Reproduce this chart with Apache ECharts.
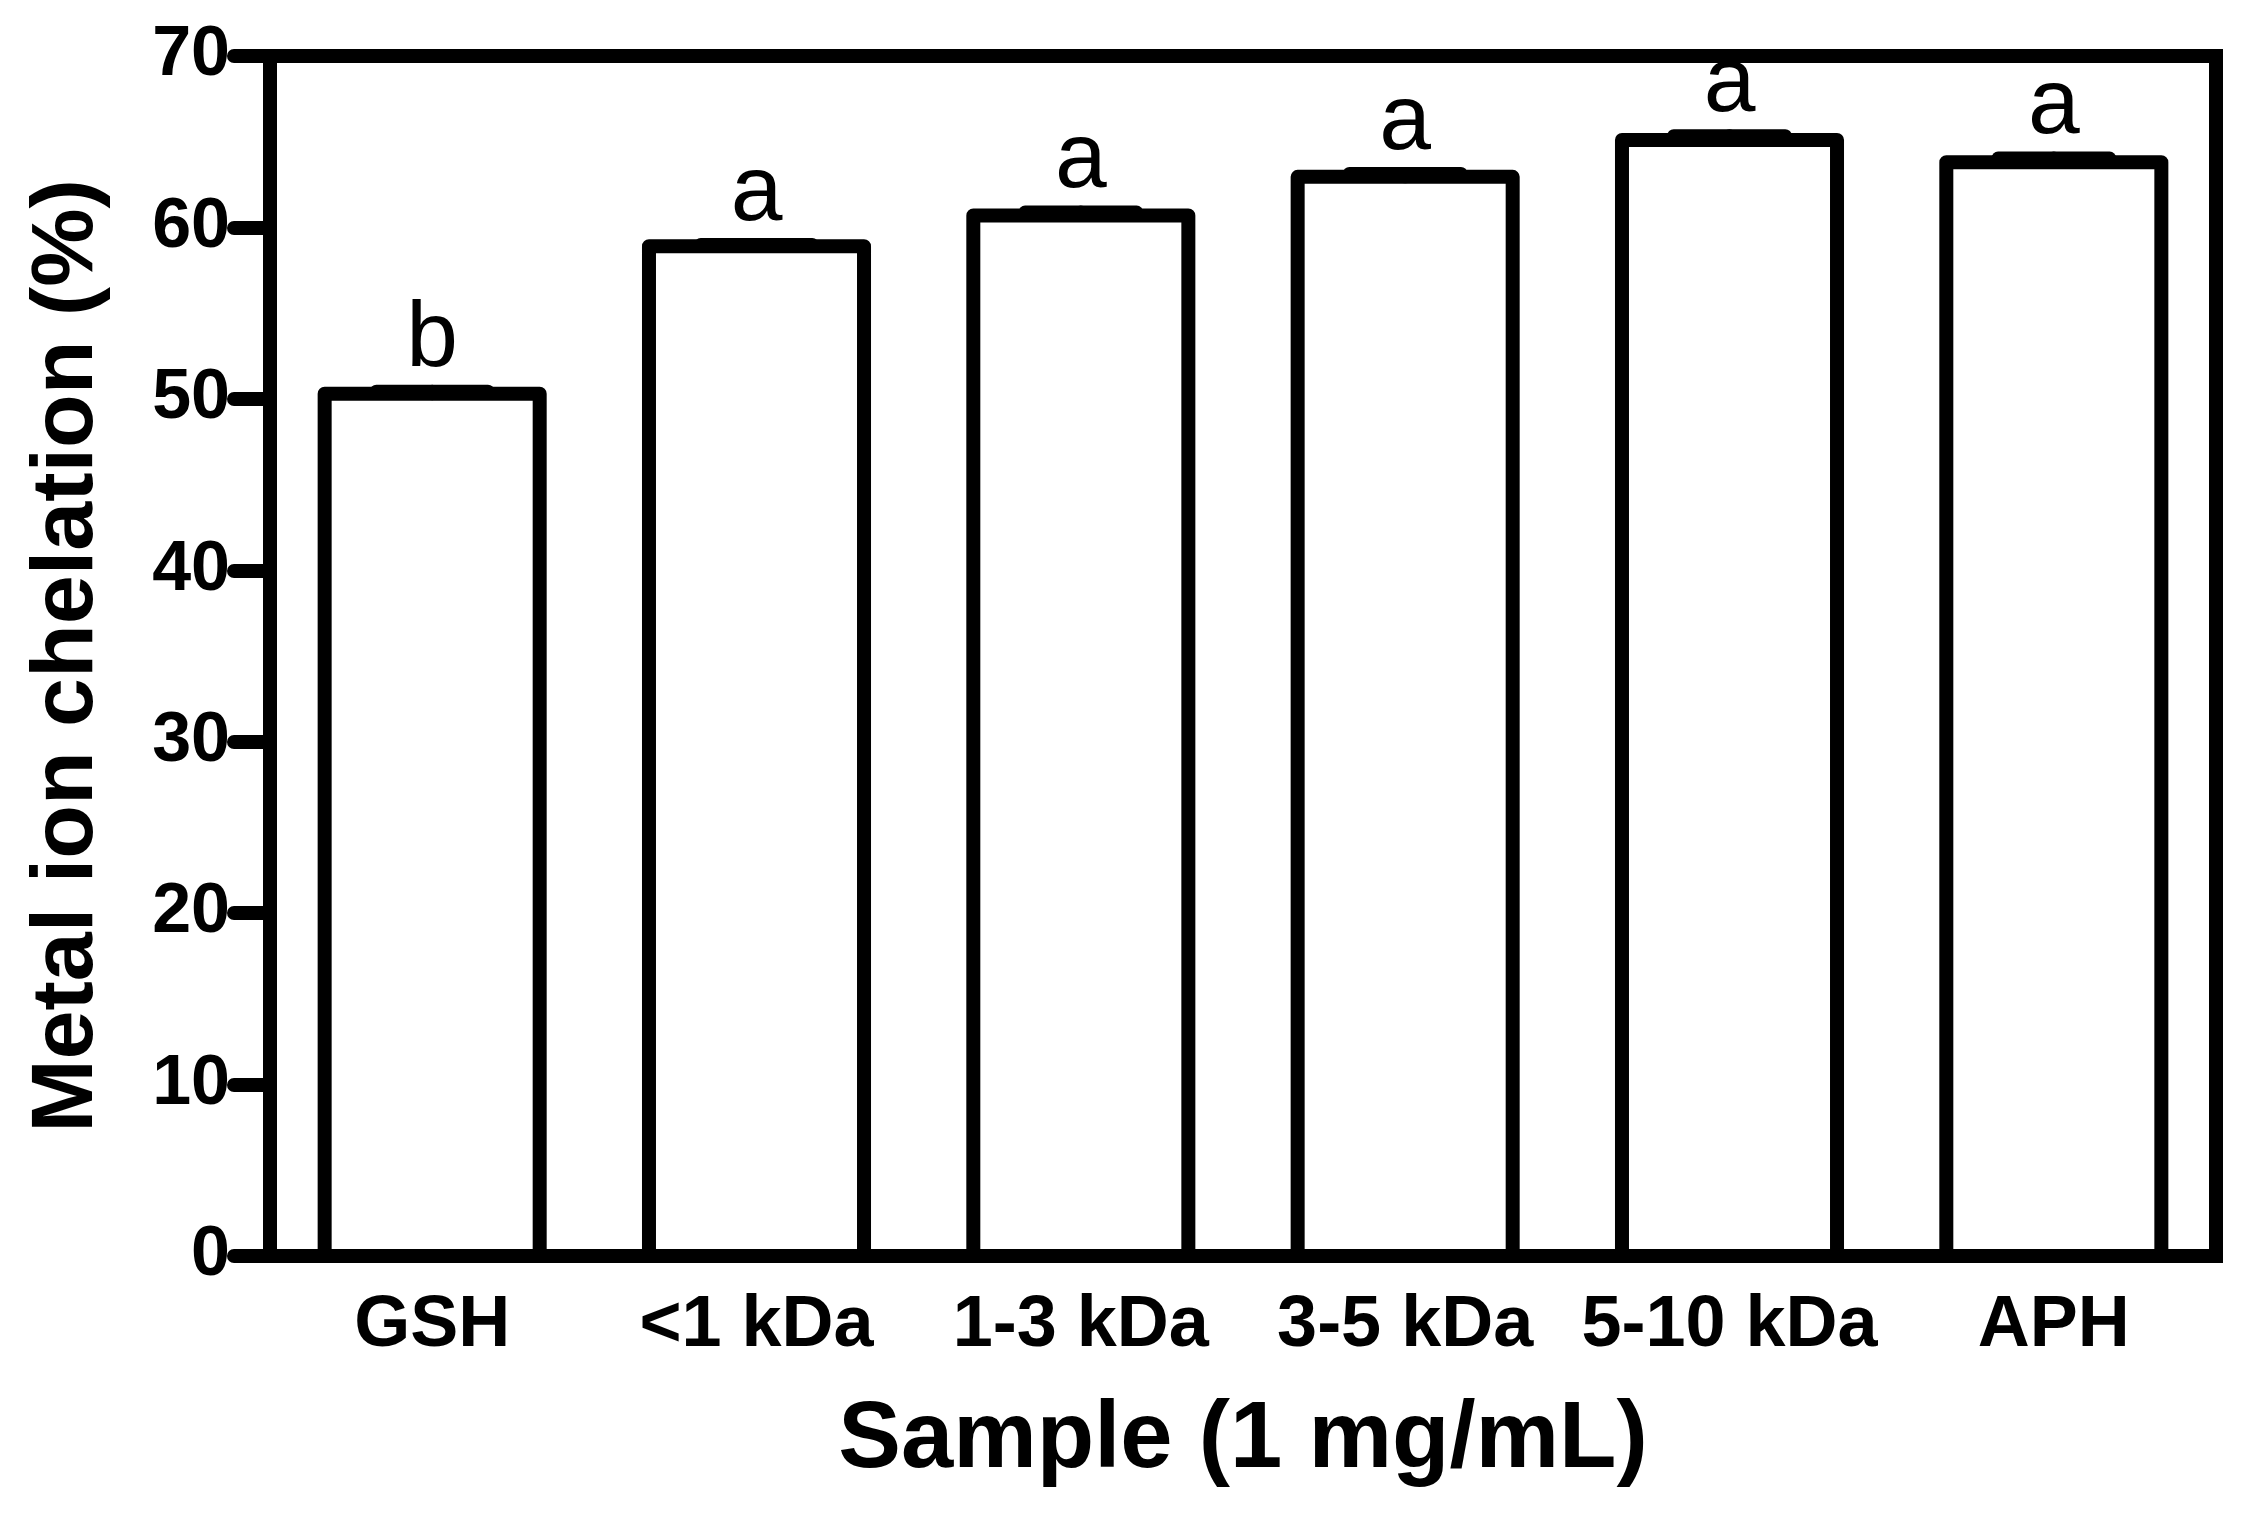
<!DOCTYPE html>
<html>
<head>
<meta charset="utf-8">
<script src="https://cdn.jsdelivr.net/npm/echarts@6/dist/echarts.min.js"></script>
<style>
  html, body { margin: 0; padding: 0; background: #ffffff; }
  #chart { width: 2255px; height: 1526px; }
</style>
</head>
<body>
<div id="chart"></div>
<script>
// ---- data ----
const categories = ['GSH', '<1 kDa', '1-3 kDa', '3-5 kDa', '5-10 kDa', 'APH'];
const chelation = [50.3, 58.9, 60.7, 62.95, 65.1, 63.8];
const errors = [0.15, 0.1, 0.2, 0.2, 0.25, 0.25];
const letters = ['b', 'a', 'a', 'a', 'a', 'a'];
const yMin = 0, yMax = 70, yStep = 10;

const FONT = "'Liberation Sans', Arial, Helvetica, sans-serif";

const chart = echarts.init(document.getElementById('chart'), null, { renderer: 'canvas' });

const barData = categories.map((c, i) => [i, chelation[i]]);
const errData = categories.map((c, i) => [i, chelation[i], errors[i]]);

chart.setOption({
  animation: false,
  backgroundColor: '#ffffff',
  grid: {
    left: 270, right: 39, top: 56, bottom: 270,
    show: true, borderColor: '#000', borderWidth: 14, backgroundColor: 'transparent'
  },
  xAxis: {
    type: 'category',
    data: categories,
    name: 'Sample (1 mg/mL)',
    nameLocation: 'middle',
    nameGap: 138,
    nameTextStyle: { fontFamily: FONT, fontSize: 94, fontWeight: 'bold', color: '#000' },
    axisLine: { lineStyle: { color: '#000', width: 14, cap: 'round' } },
    axisTick: { show: false },
    axisLabel: { fontFamily: FONT, fontSize: 72, fontWeight: 'bold', color: '#000', margin: 34, interval: 0 },
    splitLine: { show: false }
  },
  yAxis: {
    type: 'value',
    min: yMin, max: yMax, interval: yStep,
    name: 'Metal ion chelation (%)',
    nameLocation: 'middle',
    nameGap: 158,
    nameTextStyle: { fontFamily: FONT, fontSize: 88, fontWeight: 'bold', color: '#000' },
    axisLine: { show: true, lineStyle: { color: '#000', width: 14, cap: 'round' } },
    axisTick: { show: true, length: 36, lineStyle: { color: '#000', width: 14, cap: 'round' } },
    axisLabel: { fontFamily: FONT, fontSize: 70, fontWeight: 'bold', color: '#000', margin: 40 },
    splitLine: { show: false }
  },
  series: [
    {
      type: 'custom',
      data: barData,
      encode: { x: 0, y: 1 },
      z: 2,
      renderItem: function (params, api) {
        const idx = api.value(0);
        const v = api.value(1);
        const topPt = api.coord([idx, v]);
        const basePt = api.coord([idx, 0]);
        const w = api.size([1, 0])[0] * 0.663;
        return {
          type: 'rect',
          shape: { x: topPt[0] - w / 2, y: topPt[1], width: w, height: basePt[1] - topPt[1] },
          style: { fill: '#ffffff', stroke: '#000', lineWidth: 14, lineJoin: 'round' }
        };
      }
    },
    {
      type: 'custom',
      data: errData,
      encode: { x: 0, y: 1 },
      z: 3,
      renderItem: function (params, api) {
        const idx = api.value(0);
        const v = api.value(1);
        const e = api.value(2);
        const base = api.coord([idx, v]);
        const top = api.coord([idx, v + e]);
        const bw = api.size([1, 0])[0];
        const half = bw * 0.172;
        return {
          type: 'group',
          children: [
            { type: 'line', shape: { x1: base[0], y1: base[1], x2: top[0], y2: top[1] },
              style: { stroke: '#000', lineWidth: 13, lineCap: 'round' } },
            { type: 'line', shape: { x1: top[0] - half, y1: top[1], x2: top[0] + half, y2: top[1] },
              style: { stroke: '#000', lineWidth: 13, lineCap: 'round' } },
            { type: 'text', x: top[0], y: top[1] - 4,
              style: { text: letters[params.dataIndex], fontFamily: FONT, fontSize: 93,
                       fill: '#000', align: 'center', verticalAlign: 'bottom' } }
          ]
        };
      }
    }
  ]
});
</script>
</body>
</html>
